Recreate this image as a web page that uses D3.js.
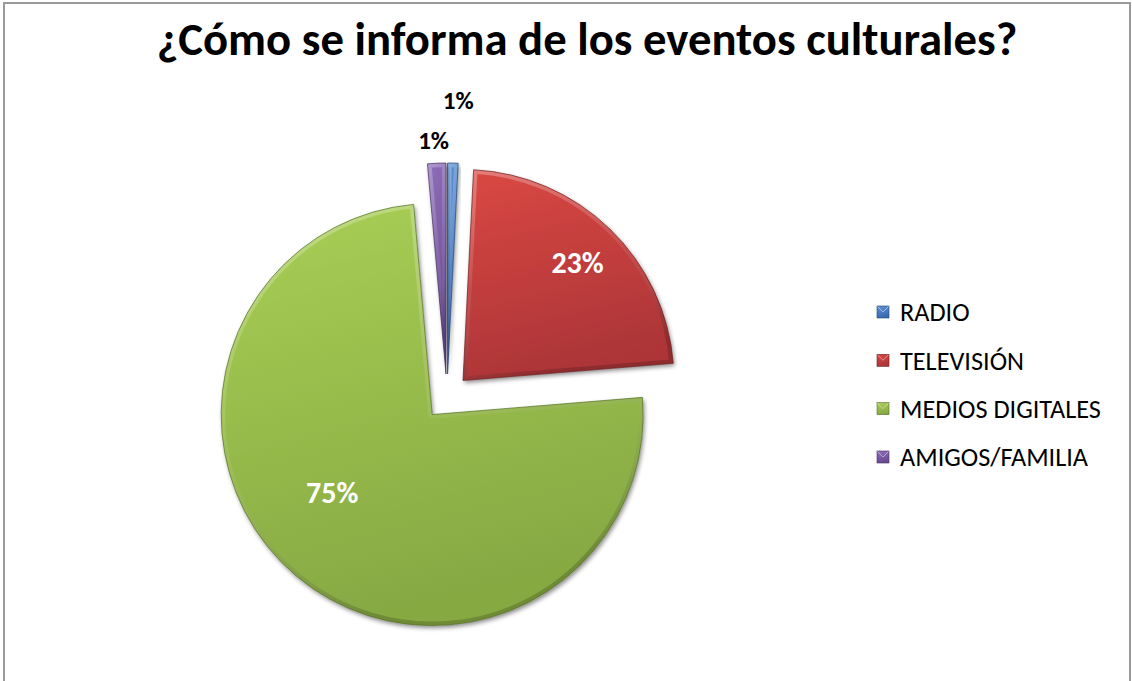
<!DOCTYPE html>
<html>
<head>
<meta charset="utf-8">
<script src="https://cdn.jsdelivr.net/npm/d3@7"></script>
<style>
  body { margin: 0; background: #fff; }
  text { font-family: Calibri, Carlito, Lato, sans-serif; }
</style>
</head>
<body>
<div id="chart"></div>
<script>
// data (percent shares)
const categories = ["RADIO", "TELEVISIÓN", "MEDIOS DIGITALES", "AMIGOS/FAMILIA"]
const shares = [0.8, 22.9, 74.9, 1.4]
const titleText = "¿Cómo se informa de los eventos culturales?"

const palette = [
    { top: "#5d93d6", bottom: "#3a6aae", edge: "#24467a" },
    { top: "#da4843", bottom: "#ad3538", edge: "#6e1f20" },
    { top: "#a9cf55", bottom: "#87a943", edge: "#55702a" },
    { top: "#916fbb", bottom: "#694b92", edge: "#43305f" }
]

// label placement per slice: radius factor, angle shift (deg), inside or not
const labelLayout = [
    { k: 1.30, da: 0.8, inside: false },
    { k: 0.78, da: 0, inside: true },
    { k: 0.60, da: 12, inside: true },
    { k: 1.11, da: -0.5, inside: false }
]

const W = 1132, H = 681
const cx = 447, cy = 397, radius = 211, explode = 23

const svg = d3.select("#chart").append("svg")
    .attr("width", W)
    .attr("height", H)

const defs = svg.append("defs")

palette.forEach((c, i) => {
    let g = defs.append("linearGradient")
        .attr("id", "grad" + i)
        .attr("x1", 0).attr("y1", 0).attr("x2", 0.25).attr("y2", 1)
    g.append("stop").attr("offset", "0%").attr("stop-color", c.top)
    g.append("stop").attr("offset", "100%").attr("stop-color", c.bottom)
})

// bevel light (top) / dark (bottom)
let bev = defs.append("linearGradient")
    .attr("id", "bevel")
    .attr("x1", 0).attr("y1", 0).attr("x2", 0.3).attr("y2", 1)
bev.append("stop").attr("offset", "0%").attr("stop-color", "#fff").attr("stop-opacity", 0.3)
bev.append("stop").attr("offset", "55%").attr("stop-color", "#fff").attr("stop-opacity", 0.08)
bev.append("stop").attr("offset", "100%").attr("stop-color", "#000").attr("stop-opacity", 0.18)

let shadow = defs.append("filter")
    .attr("id", "shadow")
    .attr("x", "-20%").attr("y", "-20%").attr("width", "140%").attr("height", "140%")
shadow.append("feDropShadow")
    .attr("dx", 1.5).attr("dy", 2.5)
    .attr("stdDeviation", 2.2)
    .attr("flood-color", "#000")
    .attr("flood-opacity", 0.45)

// chart area frame (bottom edge is off the page)
svg.append("rect")
    .attr("x", 4).attr("y", 3)
    .attr("width", 1126).attr("height", 720)
    .attr("fill", "#fff")
    .attr("stroke", "#9a9a9a")
    .attr("stroke-width", 2)

// size text so that its width matches what the picture shows
function fitWidth(sel, target) {
    let fs = +sel.attr("font-size")
    let len = sel.node().getComputedTextLength()
    if (len > 0) sel.attr("font-size", fs * target / len)
}

// title
let title = svg.append("text")
    .attr("x", 587)
    .attr("y", 55)
    .attr("text-anchor", "middle")
    .attr("font-size", 42)
    .attr("font-weight", "bold")
    .attr("fill", "#000")
    .text(titleText)
fitWidth(title, 861)

const pie = d3.pie().sort(null).value(d => d)
const arcs = pie(shares)
const arc = d3.arc().innerRadius(0).outerRadius(radius)

const offsetOf = (d) => {
    let mid = (d.startAngle + d.endAngle) / 2
    return [cx + explode * Math.sin(mid), cy - explode * Math.cos(mid)]
}

const slices = svg.selectAll(".slice")
    .data(arcs)
    .enter().append("g")
    .attr("class", "slice")
    .attr("transform", d => {
        let o = offsetOf(d)
        return "translate(" + o[0] + "," + o[1] + ")"
    })

slices.each(function (d, i) {
    let g = d3.select(this)
    let p = arc(d)

    defs.append("clipPath").attr("id", "clipLocal" + i)
        .append("path").attr("d", p)

    g.append("path")
        .attr("d", p)
        .attr("fill", "url(#grad" + i + ")")
        .attr("filter", "url(#shadow)")

    // bevel band inside the edge
    g.append("path")
        .attr("d", p)
        .attr("fill", "none")
        .attr("stroke", "url(#bevel)")
        .attr("stroke-width", 8)
        .attr("stroke-linejoin", "round")
        .attr("clip-path", "url(#clipLocal" + i + ")")

    g.append("path")
        .attr("d", p)
        .attr("fill", "none")
        .attr("stroke", palette[i].edge)
        .attr("stroke-opacity", 0.7)
        .attr("stroke-width", 1)
})

// data labels
arcs.forEach((d, i) => {
    let o = offsetOf(d)
    let lay = labelLayout[i]
    let mid = (d.startAngle + d.endAngle) / 2 + lay.da * Math.PI / 180
    let r = radius * lay.k
    svg.append("text")
        .attr("x", o[0] + r * Math.sin(mid))
        .attr("y", o[1] - r * Math.cos(mid))
        .attr("dy", "0.35em")
        .attr("text-anchor", "middle")
        .attr("font-weight", "bold")
        .attr("font-size", lay.inside ? 30 : 25)
        .attr("fill", lay.inside ? "#fff" : "#000")
        .text(Math.round(d.value) + "%")
})

// legend
const legendY = d3.scalePoint()
    .domain(categories)
    .range([312, 457])

const legend = svg.selectAll(".legend")
    .data(categories)
    .enter().append("g")
    .attr("class", "legend")
    .attr("transform", d => "translate(877," + legendY(d) + ")")

legend.append("rect")
    .attr("x", 0).attr("y", -6)
    .attr("width", 12).attr("height", 12)
    .attr("fill", (d, i) => "url(#grad" + i + ")")
    .attr("stroke", (d, i) => palette[i].edge)
    .attr("stroke-width", 0.6)

legend.append("path")
    .attr("d", "M0.5,-5.5 L6,0 L11.5,-5.5")
    .attr("fill", "none")
    .attr("stroke", "#fff")
    .attr("stroke-opacity", 0.45)
    .attr("stroke-width", 1)

let legendText = legend.append("text")
    .attr("x", 23)
    .attr("y", 0)
    .attr("dy", "0.36em")
    .attr("font-size", 19)
    .attr("fill", "#000")
    .text(d => d)

// scale legend font from the widest entry
let widest = legendText.filter(d => d === "MEDIOS DIGITALES")
let lfs = 19 * 201 / widest.node().getComputedTextLength()
legendText.attr("font-size", lfs)
</script>
</body>
</html>
